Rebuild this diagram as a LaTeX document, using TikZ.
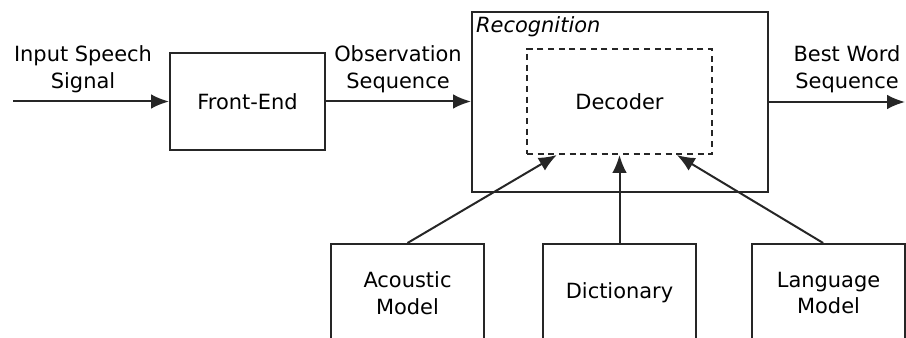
\documentclass[tikz,border=0pt]{standalone}
\usepackage{fontspec}
\setmainfont{DejaVu Sans}
\usetikzlibrary{arrows.meta}

\tikzset{every picture/.style={line width=0.75pt}}
\tikzset{
  blockbox/.style={draw=black!85, line width=1.5pt, minimum height=73.5pt, inner sep=0pt, align=center, font=\fontsize{15.7}{20}\selectfont},
  textlbl/.style={inner sep=0pt, align=center, font=\fontsize{15.7}{20}\selectfont},
  flow/.style={draw=black!85, line width=1.5pt, -{Latex[length=13.5pt,width=11pt]}},
}

\begin{document}
\begin{tikzpicture}[x=0.75pt,y=0.75pt,yscale=-1,xscale=1]
\path[use as bounding box, clip] (0,0) rectangle (906,338);

%Shape: Rectangle [front end]
\node[blockbox, minimum width=116.25pt, minimum height=72.75pt] (frontend) at (247.5,101.5) {Front-End};
%Shape: Rectangle [recognition]
\node[blockbox, minimum width=222pt, minimum height=135pt] (recog) at (620,102) {};
%Shape: Rectangle [decoder, dashed]
\node[blockbox, dash pattern=on 4.5pt off 3.5pt, minimum width=138.75pt, minimum height=78.75pt] (decoder) at (619.5,101.5) {Decoder};
%Shape: Rectangle [knowledge sources]
\node[blockbox, minimum width=114.75pt] (acoustic) at (407.5,293) {Acoustic\\Model};
\node[blockbox, minimum width=114.75pt] (dictionary) at (619.5,293) {Dictionary};
\node[blockbox, minimum width=114.75pt] (language) at (828.5,293) {Language\\Model};

% Text Node (yshift is flipped by yscale=-1)
\node[textlbl, anchor=north west, font=\fontsize{15.7}{20}\selectfont\itshape] (recoglbl) at ([xshift=3.5pt,yshift=4pt]recog.north west) {Recognition};
% Text Node
\node[textlbl] (inlbl) at (83,69) {Input Speech\\Signal};
% Text Node
\node[textlbl] (obslbl) at (398,69) {Observation\\Sequence};
% Text Node
\node[textlbl] (outlbl) at (847,69) {Best Word\\Sequence};

\coordinate (speechin) at (13,101.5);
\coordinate (wordsout) at (905,102);
\coordinate (amtip) at ([xshift=-47pt]decoder.south);
\coordinate (lmtip) at ([xshift=43pt]decoder.south);

%Arrows
\draw[flow] (speechin) -- (frontend.west);
\draw[flow] (frontend.east) -- (frontend.east -| recog.west);
\draw[flow] (recog.east) -- (wordsout);
\draw[flow] (acoustic.north) -- (amtip);
\draw[flow] (dictionary.north) -- (decoder.south);
\draw[flow] ([xshift=-4pt]language.north) -- (lmtip);
\end{tikzpicture}
\end{document}
